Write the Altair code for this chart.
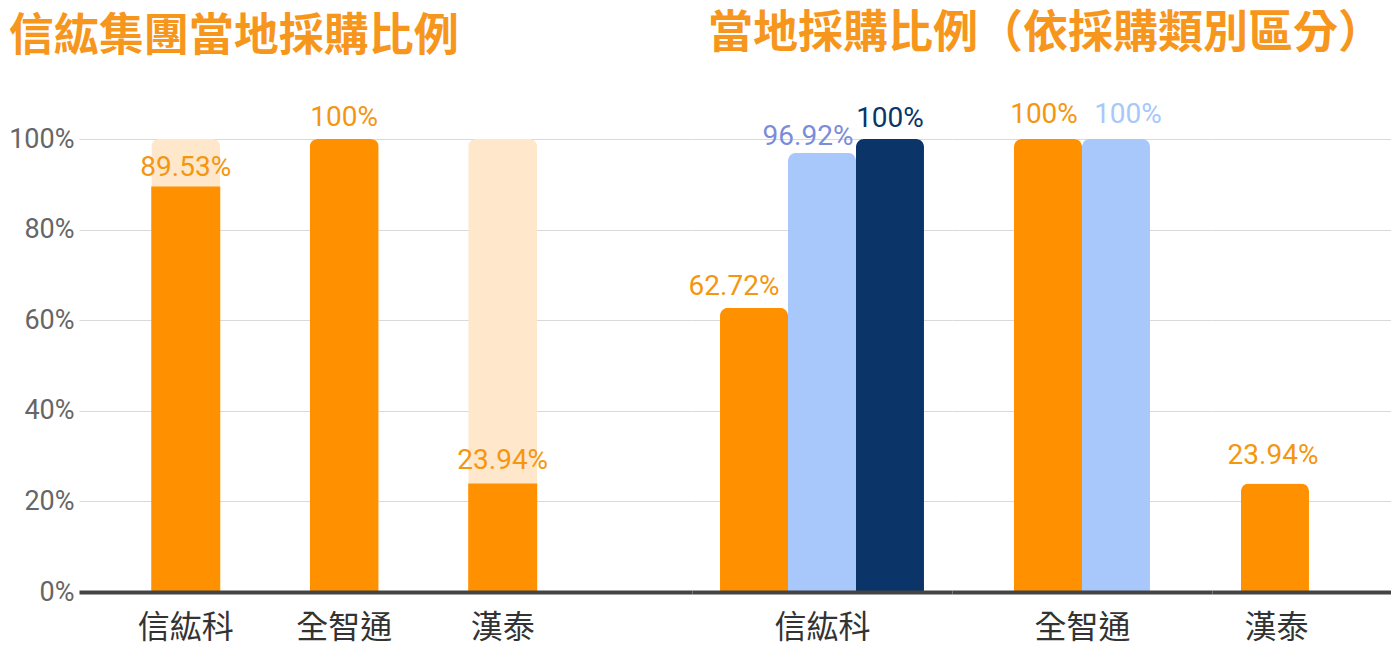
import altair as alt
import pandas as pd

companies = ["信紘科", "全智通", "漢泰"]
group_local_ratio = [89.53, 100, 23.94]

series_names = ["類別一", "類別二", "類別三"]
xin_values = [62.72, 96.92, 100]
quan_values = [100, 100]
han_values = [23.94]

left_title = "信紘集團當地採購比例"
right_title = "當地採購比例（依採購類別區分）"

ORANGE = "#FF9100"
PEACH = "#FEE7CB"
LIGHT_BLUE = "#A8C7FA"
NAVY = "#0B3468"
TEXT_ORANGE = "#F5960F"
TITLE_ORANGE = "#F7961C"
GRID = "#D9D9D9"
BASE = "#444444"
CJK = "Noto Sans CJK TC"
NUM = "Roboto"
H = 453
TICKS = [0, 20, 40, 60, 80, 100]
y_scale = alt.Scale(domain=[0, 100], nice=False, zero=True)
label_expr = "format(datum.value, '.4~r') + '%'"


def y_axis(show):
    if show:
        return alt.Axis(values=TICKS, labelExpr="datum.value + '%'", labelFont=NUM,
                        labelFontSize=27, labelColor="#666666", labelPadding=5,
                        ticks=False, domain=False, grid=True, gridColor=GRID,
                        gridWidth=1, title=None)
    return alt.Axis(values=TICKS, labels=False, ticks=False, domain=False, grid=True,
                    gridColor=GRID, gridWidth=1, title=None)


def title_params(text, dx=0, frame="bounds"):
    return alt.TitleParams(text, anchor="start", frame=frame, dx=dx, font=CJK,
                           fontSize=45, fontWeight="bold", color=TITLE_ORANGE, offset=44)


def value_text(base, x, color, dx, dy):
    return base.mark_text(baseline="bottom", dy=dy, dx=dx, font=NUM, fontSize=28,
                          color=color).encode(
        x=x, y=alt.Y("value:Q"), text="label:N")


# ---- left panel ----
left_df = pd.DataFrame({"company": companies, "value": group_local_ratio})
left_x = alt.X("company:N",
               scale=alt.Scale(domain=companies, paddingInner=0, paddingOuter=0.434, align=0.2),
               axis=alt.Axis(title=None, labelAngle=0, labelFont=CJK, labelFontSize=32,
                             labelColor="#333333", labelPadding=20, ticks=False,
                             domainColor=BASE, domainWidth=4, grid=False, zindex=1))
left_base = alt.Chart(left_df).transform_calculate(full="100", label=label_expr)
bg = left_base.mark_bar(color=PEACH, size=69, cornerRadiusTopLeft=8, cornerRadiusTopRight=8).encode(
    x=left_x, y=alt.Y("full:Q", scale=y_scale, axis=y_axis(True)))
fg_part = left_base.transform_filter("datum.value < 100").mark_bar(color=ORANGE, size=69).encode(
    x=left_x, y=alt.Y("value:Q"))
fg_full = left_base.transform_filter("datum.value >= 100").mark_bar(
    color=ORANGE, size=69, cornerRadiusTopLeft=8, cornerRadiusTopRight=8).encode(
    x=left_x, y=alt.Y("value:Q"))
left_label_dy = [-4, -7, -9]
left_txt = [
    value_text(left_base.transform_filter(alt.datum.company == c), left_x, TEXT_ORANGE, 0, d)
    for c, d in zip(companies, left_label_dy)
]
left = alt.layer(bg, fg_part, fg_full, *left_txt).properties(
    width=613, height=H, title=title_params(left_title))


# ---- right panel ----
def group_chart(company, values, width, pad_outer, align, title_x, label_colors, label_dx, label_dy):
    names = series_names[:len(values)]
    df = pd.DataFrame({"series": names, "value": values})
    base = alt.Chart(df).transform_calculate(label=label_expr)
    x = alt.X("series:N",
              scale=alt.Scale(domain=names, paddingInner=0, paddingOuter=pad_outer, align=align),
              axis=alt.Axis(labels=False, ticks=False, title=company, titleFont=CJK,
                            titleFontSize=32, titleFontWeight="normal", titleColor="#333333",
                            titlePadding=20, titleX=title_x, domainColor=BASE, domainWidth=4,
                            grid=False, zindex=1))
    bars = base.mark_bar(cornerRadiusTopLeft=8, cornerRadiusTopRight=8).encode(
        x=x, y=alt.Y("value:Q", scale=y_scale, axis=y_axis(False)),
        color=alt.Color("series:N",
                        scale=alt.Scale(domain=series_names, range=[ORANGE, LIGHT_BLUE, NAVY]),
                        legend=None))
    texts = [
        value_text(base.transform_filter(alt.datum.series == n), x, c, dxx, dyy)
        for n, c, dxx, dyy in zip(names, label_colors, label_dx, label_dy)
    ]
    return alt.layer(bars, *texts).properties(width=width, height=H)


s1 = group_chart("信紘科", xin_values, 260, 0.412, 0.5, 130,
                 [TEXT_ORANGE, "#7B8CD8", NAVY], [-20, -14, 0], [-7, -2, -6])
s2 = group_chart("全智通", quan_values, 260, 0.912, 0.5, 130,
                 [TEXT_ORANGE, LIGHT_BLUE], [-4, 12], [-10, -10])
s3 = group_chart("漢泰", han_values, 179, 0.816, 0.261, 64,
                 [TEXT_ORANGE], [-2], [-14])

right = alt.hconcat(s1, s2, s3, spacing=0, bounds="flush",
                    title=title_params(right_title, dx=16, frame="group"))

chart = alt.hconcat(left, right, spacing=0, bounds="flush").properties(
    padding={"top": 4, "bottom": 0, "left": 0, "right": 0}).configure_view(stroke=None)

chart.save("out.html", embed_options={"renderer": "svg", "actions": False})
